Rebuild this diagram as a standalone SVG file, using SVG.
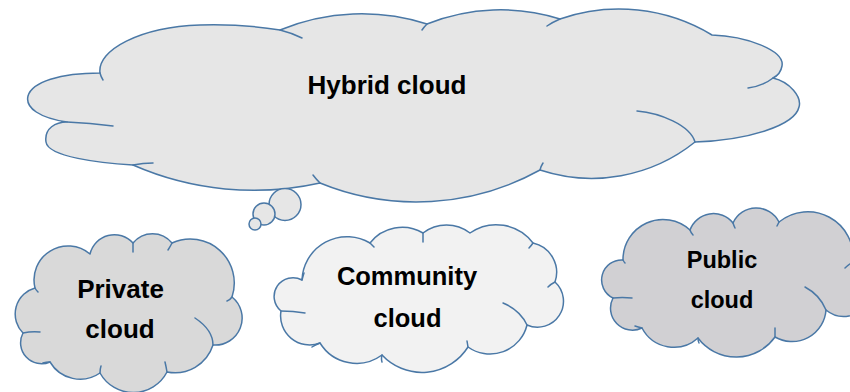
<svg xmlns="http://www.w3.org/2000/svg" width="850" height="392" viewBox="0 0 850 392">
<style>
.cl{stroke:#4a78a6;stroke-width:1.5;stroke-linejoin:round}
.hk{fill:none;stroke:#4a78a6;stroke-width:1.5;stroke-linecap:round}
.t{font-family:"Liberation Sans",Arial,sans-serif;font-weight:bold;fill:#000;text-anchor:middle}
</style>
<rect width="850" height="392" fill="#ffffff"/>
<g id="hybrid">
<path class="cl" fill="#e6e6e6" d="M100,73 C97,50 140,27 200,25 C235,24 262,27 280,30 A214,214 0 0 1 427,24 A198,198 0 0 1 560,19 A180,180 0 0 1 712,35 C745,36 785,50 782,66 C781,72 777,76 773,78 C790,82 802,97 799,107 C795,125 750,140 695,142 A165,165 0 0 1 540,170 A255,255 0 0 1 320,183 A302,302 0 0 1 133,165 C100,163 48,157 46,142 C44,128 56,122 67,122 C40,118 25,108 28,96 C32,82 60,73 100,73 Z"/>
<path class="hk" d="M100,73 Q101,77 103,80 M67,122 Q90,123 113,126 M133,165 Q143,163 153,163 M320,183 Q316,179 313,175 M540,170 Q541,166 543,163 M637,111 C660,113 690,125 695,142 M773,78 Q763,86 748,88 M560,19 Q553,22 547,26 M427,24 Q424,27 422,30 M280,30 Q292,33 302,38"/>
<circle class="cl" fill="#e6e6e6" cx="285" cy="204.5" r="16"/>
<circle class="cl" fill="#e6e6e6" cx="264" cy="214" r="11"/>
<circle class="cl" fill="#e6e6e6" cx="255" cy="224" r="6"/>
<text class="t" x="387" y="94" font-size="26">Hybrid cloud</text>
</g>
<g id="private">
<path class="cl" fill="#d9d9d9" d="M35,288 A34,34 0 0 1 90,254 A25,25 0 0 1 133,243 A25,25 0 0 1 172,243 A44,44 0 0 1 232,297 A27,27 0 0 1 213,345 A40,40 0 0 1 167,372 A38,38 0 0 1 100,373 A35,35 0 0 1 50,362 A21,21 0 0 1 23,333 A27,27 0 0 1 35,288 Z"/>
<path class="hk" d="M133,243 Q133,248 133,252 M172,243 Q170,247 168,250 M232,297 Q230,300 227,301 M195,318 Q213,330 213,345 M167,372 Q166,366 165,362 M100,373 Q100,369 101,366 M50,362 Q46,362 43,363 M23,333 Q32,331 40,332 M35,288 Q36,290 38,292"/>
<text class="t" x="120.5" y="298" font-size="26">Private</text>
<text class="t" x="120" y="338" font-size="26">cloud</text>
</g>
<g id="community">
<path class="cl" fill="#f2f2f2" d="M302,280 A45,45 0 0 1 370,243 A41,41 0 0 1 423,233 A38.5,38.5 0 0 1 470,233 A46,46 0 0 1 533,243 A30,30 0 0 1 555,282 A26,26 0 0 1 527,325 A38,38 0 0 1 468,347 A54.5,54.5 0 0 1 382,355 A43,43 0 0 1 320,343 A29,29 0 0 1 281,311 A18.8,18.8 0 0 1 302,280 Z"/>
<path class="hk" d="M302,280 Q303,276 304,273 M281,311 Q293,311 305,313 M320,343 Q315,345 312,347 M382,355 Q381,359 382,362 M468,347 L467,341 M503,303 Q520,310 527,325 M555,282 Q551,284 548,287 M533,243 Q531,246 529,248 M423,233 Q423,238 423,242 M370,243 Q372,245 374,247"/>
<text class="t" x="407" y="285" font-size="25.5">Community</text>
<text class="t" x="407.5" y="327" font-size="25.5">cloud</text>
</g>
<g id="public">
<path class="cl" fill="#d1d0d3" d="M623,260 A40,40 0 0 1 690,230 A25,25 0 0 1 733,223 A25.5,25.5 0 0 1 779,222 A45.5,45.5 0 0 1 853,262 A28,28 0 1 1 826,310 A34,34 0 0 1 775,337 A47.7,47.7 0 0 1 698,338 A36,36 0 0 1 642,328 A22,22 0 0 1 613,298 A20,20 0 0 1 623,260 Z"/>
<path class="hk" d="M613,298 Q622,297 632,298 M642,328 Q638,327 635,326 M698,338 Q698,341 699,343 M775,337 Q775,332 775,328 M805,287 Q820,295 826,310 M853,262 Q849,264 845,268 M779,222 Q778,224 777,226 M733,223 Q734,226 735,228 M690,230 Q691,233 693,235 M623,260 Q624,262 625,263"/>
<text class="t" x="722" y="268" font-size="23.5">Public</text>
<text class="t" x="722" y="308" font-size="23.5">cloud</text>
</g>
</svg>
